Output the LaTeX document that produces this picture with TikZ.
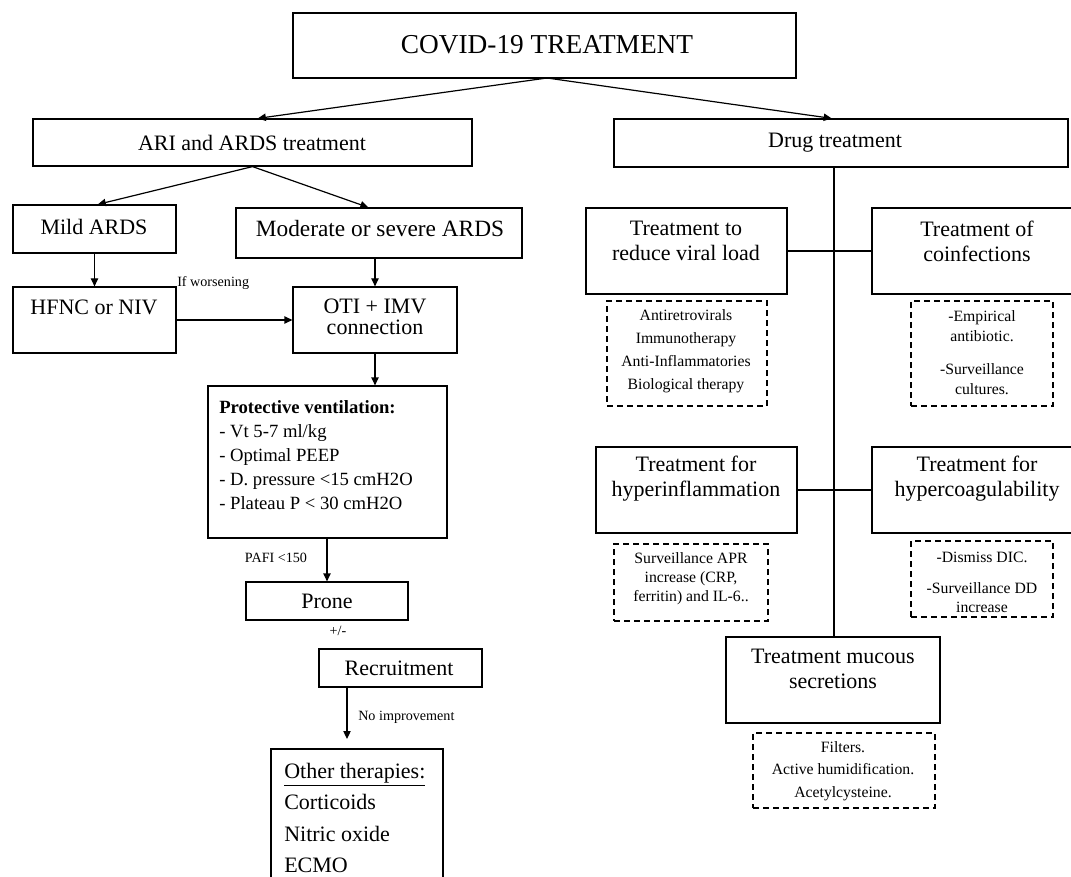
\documentclass[tikz,border=0pt]{standalone}
\usepackage{fontspec}
\setmainfont{Liberation Serif}
\usetikzlibrary{arrows.meta,fit,calc}
\begin{document}
\begin{tikzpicture}[x=0.75pt,y=-0.75pt,
  box/.style={draw,line width=0.9pt,inner sep=0pt},
  dbox/.style={draw,line width=0.9pt,inner sep=0pt,dash pattern=on 4.5pt off 3pt},
  conn/.style={line width=0.9pt},
  arr/.style={line width=0.9pt,-{Triangle[length=6pt,width=5.5pt]}},
  big/.style={font=\fontsize{16.5}{18.75}\selectfont,align=center,inner sep=0pt},
  huge/.style={font=\fontsize{20.5}{24}\selectfont,align=center,inner sep=0pt},
  small/.style={font=\fontsize{10.6}{12}\selectfont,inner sep=0pt},
  dtext/.style={font=\fontsize{11.8}{17.25}\selectfont,align=center,inner sep=0pt}
]
\useasboundingbox (0,0) rectangle (1071,877);

% ---------- boxes ----------
\node[box, fit={(293,13) (796,78)}] (covid) {};
\node[box, fit={(33,119) (472,166)}] (ari) {};
\node[box, fit={(614,119) (1068,167)}] (drug) {};
\node[box, fit={(13,205) (176,253)}] (mild) {};
\node[box, fit={(236,208) (522,258)}] (moderate) {};
\node[box, fit={(13,287) (176,353)}] (hfnc) {};
\node[box, fit={(293,287) (457,353)}] (oti) {};
\node[box, fit={(208,386) (447,538)}] (prot) {};
\node[box, fit={(246,582) (408,620)}] (prone) {};
\node[box, fit={(319,649) (482,687)}] (recruit) {};
\node[box, fit={(271,749) (443,900)}] (other) {};

\node[box, fit={(586,208) (787,294)}] (viral) {};
\node[box, fit={(872,208) (1085,294)}] (coinf) {};
\node[box, fit={(596,447) (797,533)}] (hyper) {};
\node[box, fit={(872,447) (1085,533)}] (hcoag) {};
\node[box, fit={(726,637) (940,723)}] (mucous) {};

\node[dbox, fit={(607,301) (767,406)}] (dviral) {};
\node[dbox, fit={(911,301) (1053,406)}] (dcoinf) {};
\node[dbox, fit={(614,544) (768,621)}] (dhyper) {};
\node[dbox, fit={(911,541) (1053,617)}] (dhcoag) {};
\node[dbox, fit={(753,733) (935,808)}] (dmucous) {};

% ---------- texts ----------
\node[huge] (tcovid) at (547,45) {COVID-19 TREATMENT};
\node[big] (tari) at (252,143) {ARI and ARDS treatment};
\node[big] (tdrug) at (835,143) {Drug treatment};
\node[big] (tmild) at (94,227) {Mild ARDS};
\node[big, font=\fontsize{17.5}{20}\selectfont] (tmod) at (380,229) {Moderate or severe ARDS};
\node[big] (thfnc) at (94,307) {HFNC or NIV};
\node[big, font=\fontsize{16.5}{16}\selectfont] (toti) at (375,317) {OTI + IMV\\connection};
\node[anchor=north west, align=left, font=\fontsize{14}{18}\selectfont, inner sep=0pt] (tprot) at (219,400)
  {\textbf{Protective ventilation:}\\- Vt 5-7 ml/kg\\- Optimal PEEP\\- D. pressure <15 cmH2O\\- Plateau P < 30 cmH2O};
\node[big] (tprone) at (327,601) {Prone};
\node[big] (trecruit) at (399,668) {Recruitment};
\node[anchor=north west, align=left, font=\fontsize{16.5}{23.5}\selectfont, inner sep=0pt] (tother) at (284,763)
  {\underline{Other therapies:}\\Corticoids\\Nitric oxide\\ECMO};

\node[small, anchor=west] (tworse) at (177,283) {If worsening};
\node[small] (tpafi) at (276,558) {PAFI <150};
\node[small] (tpm) at (338,631) {+/-};
\node[small, anchor=west] (tnoimp) at (358,717) {No improvement};

\node[big] (tviral) at (686,241) {Treatment to\\reduce viral load};
\node[big] (tcoinf) at (977,241) {Treatment of\\coinfections};
\node[big] (thyper) at (696,479) {Treatment for\\hyperinflammation};
\node[big] (thcoag) at (977,479) {Treatment for\\hypercoagulability};
\node[big] (tmucous) at (833,669) {Treatment mucous\\secretions};

\node[dtext] (tdviral) at (686,351) {Antiretrovirals\\Immunotherapy\\Anti-Inflammatories\\Biological therapy};
\node[dtext, font=\fontsize{11.8}{15}\selectfont] (tdcoinf) at (982,353) {-Empirical\\antibiotic.\\[9.75pt]-Surveillance\\cultures.};
\node[dtext, font=\fontsize{11.8}{14.25}\selectfont] (tdhyper) at (691,579) {Surveillance APR\\increase (CRP,\\ferritin) and IL-6..};
\node[dtext, font=\fontsize{11.8}{14.25}\selectfont] (tdhcoag) at (982,582) {-Dismiss DIC.\\[9pt]-Surveillance DD\\increase};
\node[dtext, font=\fontsize{11.8}{16.9}\selectfont] (tdmucous) at (843,771) {Filters.\\Active humidification.\\Acetylcysteine.};

% ---------- connectors ----------
\coordinate (covidout) at (547,78);
\draw[arr] (covidout) -- ([xshift=4pt]ari.north);
\draw[arr] (covidout) -- ([xshift=-7pt]drug.north);
\draw[arr] (ari.south) -- ([xshift=2.5pt]mild.north);
\draw[arr] (ari.south) -- ([xshift=-8pt]moderate.north);
\draw[arr] (mild.south) -- (hfnc.north);
\draw[arr] (moderate.south -| oti.north) -- (oti.north);
\draw[arr] (hfnc.east) -- (oti.west);
\draw[arr] (oti.south) -- (oti.south |- prot.north);
\draw[arr] (prot.south -| prone.north) -- (prone.north);
\coordinate (noimpstart) at (347,687);
\coordinate (noimpend) at (347,739);
\draw[arr] (noimpstart) -- (noimpend);

\coordinate (trunktop) at (834,167);
\draw[conn] (trunktop) -- (trunktop |- mucous.north);
\draw[conn] (viral.east) -- (coinf.west);
\draw[conn] (hyper.east) -- (hcoag.west);
\end{tikzpicture}
\end{document}
